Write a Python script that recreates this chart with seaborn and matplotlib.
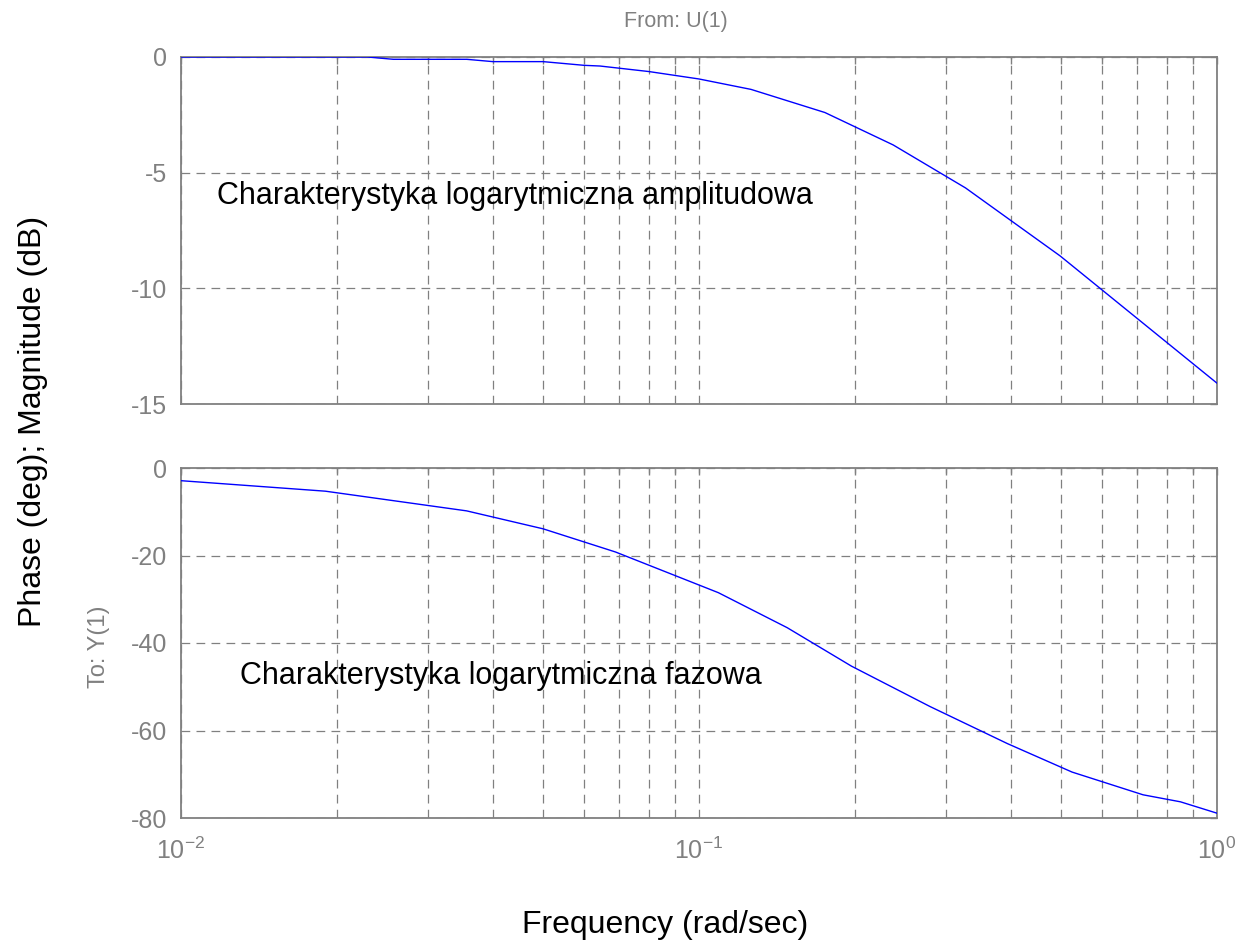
import matplotlib
matplotlib.use("Agg")
import matplotlib.pyplot as plt
import seaborn as sns
import pandas as pd
from matplotlib.ticker import LogLocator, NullFormatter, FixedLocator, FixedFormatter

# Data
freq_mag = [0.01, 0.0229, 0.0257, 0.0356, 0.04, 0.05, 0.06, 0.0644, 0.0801, 0.1, 0.126, 0.175, 0.237, 0.327, 0.498, 0.796, 1.0]
magnitude_db = [0.0, 0.0, -0.1, -0.1, -0.2, -0.2, -0.36, -0.39, -0.63, -0.95, -1.4, -2.4, -3.8, -5.66, -8.6, -12.3, -14.1]
freq_ph = [0.01, 0.019, 0.0356, 0.05, 0.069, 0.109, 0.148, 0.197, 0.279, 0.394, 0.525, 0.72, 0.85, 1.0]
phase_deg = [-2.9, -5.3, -9.8, -13.9, -19.2, -28.5, -36.5, -45.3, -54.5, -63.0, -69.5, -74.7, -76.3, -78.9]
mag_ticks = [0, -5, -10, -15]
phase_ticks = [0, -20, -40, -60, -80]
x_ticks = [0.01, 0.1, 1.0]
x_tick_labels = [r"$\mathregular{10^{-2}}$", r"$\mathregular{10^{-1}}$", r"$\mathregular{10^{0}}$"]
title_from = "From: U(1)"
label_to = "To: Y(1)"
ylabel = "Phase (deg); Magnitude (dB)"
xlabel = "Frequency (rad/sec)"
ann_mag = "Charakterystyka logarytmiczna amplitudowa"
ann_ph = "Charakterystyka logarytmiczna fazowa"

sns.set_theme(style="white")
plt.rcParams['font.family'] = ['Liberation Sans', 'DejaVu Sans']
plt.rcParams['axes.unicode_minus'] = False
plt.rcParams['mathtext.fontset'] = 'custom'
plt.rcParams['mathtext.rm'] = 'Liberation Sans'

grey = "#808080"
fig = plt.figure(figsize=(12.39, 9.44), dpi=100)
W, H = 1239, 944
ax1 = fig.add_axes([181 / W, 1 - 404 / H, (1217 - 181) / W, (404 - 57) / H])
ax2 = fig.add_axes([181 / W, 1 - 818 / H, (1217 - 181) / W, (818 - 468) / H])

df_mag = pd.DataFrame({"f": freq_mag, "v": magnitude_db})
df_ph = pd.DataFrame({"f": freq_ph, "v": phase_deg})
sns.lineplot(data=df_mag, x="f", y="v", ax=ax1, color="#0000ff", lw=1.0, sort=False, zorder=3)
sns.lineplot(data=df_ph, x="f", y="v", ax=ax2, color="#0000ff", lw=1.0, sort=False, zorder=3)

for ax, ticks in ((ax1, mag_ticks), (ax2, phase_ticks)):
    ax.set_xscale("log")
    ax.set_xlim(0.01, 1.0)
    ax.set_ylim(min(ticks), max(ticks))
    ax.yaxis.set_major_locator(FixedLocator(ticks))
    ax.yaxis.set_major_formatter(FixedFormatter([str(t) for t in ticks]))
    ax.xaxis.set_major_locator(FixedLocator(x_ticks))
    ax.xaxis.set_major_formatter(FixedFormatter(x_tick_labels))
    ax.xaxis.set_minor_locator(LogLocator(base=10, subs=range(2, 10), numticks=100))
    ax.xaxis.set_minor_formatter(NullFormatter())
    ax.grid(True, which="both", axis="x", color=grey, ls=(0, (7, 5)), lw=0.9)
    ax.grid(True, which="major", axis="y", color=grey, ls=(0, (7, 5)), lw=0.9)
    for s in ax.spines.values():
        s.set_color(grey)
        s.set_linewidth(1.3)
    ax.tick_params(axis="both", which="both", direction="in", length=5, width=1.0,
                   colors=grey, labelsize=18, labelcolor=grey, pad=10,
                   top=True, right=True)
    ax.set_xlabel("")
    ax.set_ylabel("")
    ax.set_facecolor("white")

ax1.tick_params(axis="x", labelbottom=False)
ax2.tick_params(axis="x", pad=14)

ax1.text(0.035, 0.60, ann_mag, transform=ax1.transAxes, fontsize=22, color="black", va="center", ha="left")
ax2.text(0.057, 0.405, ann_ph, transform=ax2.transAxes, fontsize=22, color="black", va="center", ha="left")

fig.text(676 / W, 1 - 22 / H, title_from, color=grey, fontsize=15.5, ha="center", va="center")
fig.text(99 / W, 1 - 647 / H, label_to, color=grey, fontsize=17, ha="center", va="center", rotation=90)
fig.text(33 / W, 1 - 421 / H, ylabel, color="black", fontsize=23, ha="center", va="center", rotation=90)
fig.text(665 / W, 1 - 925 / H, xlabel, color="black", fontsize=23, ha="center", va="center")

fig.savefig("out.png", dpi=100, facecolor="white")
